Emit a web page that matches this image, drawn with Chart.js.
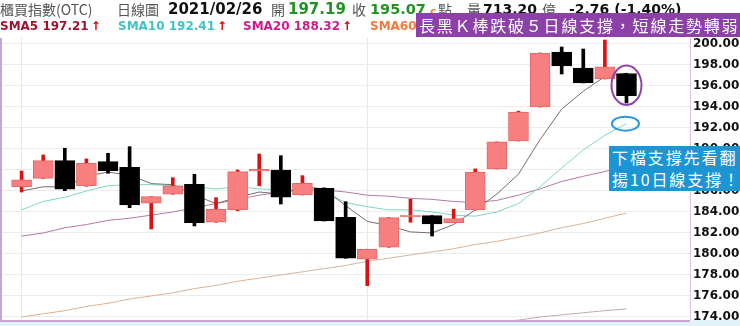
<!DOCTYPE html>
<html lang="zh-Hant">
<head>
<meta charset="utf-8">
<script src="https://cdn.jsdelivr.net/npm/chart.js@4.4.1/dist/chart.umd.min.js"></script>
<style>
  html, body { margin: 0; padding: 0; background: #fff; }
  #wrap { position: relative; width: 740px; height: 326px; overflow: hidden; }
  #wrap canvas { position: absolute; left: 0; top: 0; }
  .t { position: absolute; white-space: nowrap; }
  .cjk { font-family: "Noto Sans CJK TC", sans-serif; font-size: 14px; color: #555; top: 0; line-height: 19px; }
  .num { font-family: "DejaVu Sans", sans-serif; font-weight: bold; font-size: 15px; color: #111; top: 0; line-height: 19px; }
  .green { color: #229322; }
  .sma { font-family: "DejaVu Sans", sans-serif; font-weight: bold; font-size: 12px; top: 18px; line-height: 17px; }
  .arrow { color: #e00000; margin-left: 2px; }
  #tipTop {
    left: 416px; top: 13px; width: 324px; height: 24px; background: #8d41a8; color: #fff;
    font-family: "Noto Sans CJK TC", sans-serif; font-size: 16px; line-height: 24px;
    letter-spacing: 1.8px; padding-left: 3px; box-sizing: border-box; overflow: hidden;
  }
  #tipSide {
    left: 609px; top: 146px; width: 131px; height: 45px; background: #1b95d3; color: #fff;
    font-family: "Noto Sans CJK TC", sans-serif; font-size: 16px; line-height: 22px;
    letter-spacing: 1.9px; padding-left: 3px; box-sizing: border-box; overflow: hidden;
  }
</style>
</head>
<body>
<div id="wrap">
  <canvas id="kChart" width="740" height="326"></canvas>

  <span class="t cjk" style="left:0">櫃買指數(OTC)</span>
  <span class="t cjk" style="left:117px">日線圖</span>
  <span class="t num" id="hDate" style="left:168px"></span>
  <span class="t cjk" style="left:271px">開</span>
  <span class="t num green" id="hOpen" style="left:288px"></span>
  <span class="t cjk" style="left:352px">收</span>
  <span class="t num green" id="hClose" style="left:370px;font-size:14.5px"></span>
  <span class="t num" style="left:430px;font-size:11px;color:#f08030;top:2px">c</span>
  <span class="t cjk" style="left:438px">點</span>
  <span class="t cjk" style="left:467px">量</span>
  <span class="t num" id="hVol" style="left:483px;font-size:14px"></span>
  <span class="t cjk" style="left:542px">億</span>
  <span class="t num" id="hChg" style="left:569px;font-size:14px"></span>

  <span class="t sma" style="left:0;color:#a3122c"><span id="l5"></span><span class="arrow">↑</span></span>
  <span class="t sma" style="left:118px;color:#3fc3c8"><span id="l10"></span><span class="arrow">↑</span></span>
  <span class="t sma" style="left:243px;color:#cc1c8c"><span id="l20"></span><span class="arrow">↑</span></span>
  <span class="t sma" style="left:370px;color:#f07a3a">SMA60</span>

  <div class="t" id="tipTop">長黑Ｋ棒跌破５日線支撐，短線走勢轉弱</div>
  <div class="t" id="tipSide">下檔支撐先看翻<br>揚10日線支撐！</div>
</div>

<script>
// ============================================================
// DATA
// ============================================================
const dates = [
  "2021/01/08", "2021/01/11", "2021/01/12", "2021/01/13", "2021/01/14", "2021/01/15",
  "2021/01/18", "2021/01/19", "2021/01/20", "2021/01/21", "2021/01/22",
  "2021/01/25", "2021/01/26", "2021/01/27", "2021/01/28", "2021/01/29",
  "2021/02/01", "2021/02/02", "2021/02/03", "2021/02/04", "2021/02/05",
  "2021/02/17", "2021/02/18", "2021/02/19",
  "2021/02/22", "2021/02/23", "2021/02/24", "2021/02/25", "2021/02/26"
];

const openP = [186.40, 187.20, 188.89, 186.48, 188.79, 188.26, 184.83, 185.69, 186.64, 183.02,
  184.19, 187.88, 188.00, 185.62, 186.26, 183.50, 179.50, 180.64, 183.55, 183.65,
  182.98, 184.19, 188.10, 190.76, 194.00, 199.24, 197.71, 196.67, 197.19];
const highP = [187.90, 189.43, 190.07, 189.05, 189.59, 190.22, 185.46, 187.27, 187.59, 185.36,
  188.00, 189.52, 189.36, 187.46, 186.30, 184.98, 180.45, 183.46, 185.21, 183.65,
  184.26, 188.10, 190.67, 193.60, 199.14, 199.71, 199.52, 200.38, 197.19];
const lowP = [185.90, 187.20, 186.03, 186.45, 187.69, 184.41, 182.38, 185.69, 182.67, 183.02,
  184.12, 186.50, 184.76, 185.62, 183.14, 179.59, 176.98, 180.64, 183.02, 181.71,
  182.98, 184.19, 188.10, 190.76, 194.00, 197.14, 196.29, 196.67, 194.38];
const closeP = [187.05, 188.89, 186.16, 188.64, 187.93, 184.67, 185.46, 186.48, 182.98, 184.26,
  187.84, 188.07, 185.40, 186.73, 183.14, 179.59, 180.45, 183.46, 183.71, 182.86,
  183.36, 187.81, 190.67, 193.52, 199.14, 197.90, 196.29, 197.83, 195.07];

const sma5 = [186.0, 186.4, 186.4, 187.4, 187.8, 187.5, 186.7, 186.6, 185.6, 184.8,
  185.4, 185.9, 185.7, 186.4, 186.2, 184.6, 183.1, 182.7, 182.1, 182.0,
  182.8, 184.2, 185.7, 187.6, 190.9, 193.8, 195.5, 196.9, 197.21];
const sma10 = [184.2, 185.0, 185.4, 186.0, 186.5, 186.6, 186.6, 186.5, 186.4, 186.2,
  186.4, 186.2, 186.1, 186.1, 185.9, 184.9, 184.5, 184.2, 184.2, 184.0,
  183.7, 183.6, 184.0, 184.8, 186.4, 188.2, 189.9, 191.3, 192.41];
const sma20 = [181.7, 182.0, 182.5, 182.8, 183.2, 183.4, 183.7, 184.0, 184.4, 184.8,
  185.2, 185.6, 185.9, 186.1, 186.1, 185.9, 185.6, 185.5, 185.3, 185.2,
  185.0, 184.9, 185.1, 185.6, 186.2, 186.9, 187.4, 187.85, 188.32];
const sma60 = [174.0, 174.3, 174.6, 175.0, 175.3, 175.7, 176.0, 176.3, 176.7, 177.0,
  177.4, 177.7, 178.0, 178.3, 178.6, 178.9, 179.3, 179.6, 179.9, 180.2,
  180.5, 180.9, 181.2, 181.6, 182.0, 182.5, 182.9, 183.4, 183.9];
const sma120 = [169.9, 170.1, 170.3, 170.5, 170.6, 170.8, 171.0, 171.2, 171.3, 171.5,
  171.7, 171.9, 172.0, 172.2, 172.4, 172.5, 172.7, 172.8, 173.0, 173.1,
  173.3, 173.4, 173.5, 173.7, 174.0, 174.2, 174.4, 174.6, 174.76];

const yTicks = [174, 176, 178, 180, 182, 184, 186, 188, 190, 192, 194, 196, 198, 200];
const volume = 713.20; // 億

// ============================================================
// HEADER
// ============================================================
const last = dates.length - 1;
const chg = closeP[last] - closeP[last - 1];
document.getElementById("hDate").textContent = dates[last];
document.getElementById("hOpen").textContent = openP[last].toFixed(2);
document.getElementById("hClose").textContent = closeP[last].toFixed(2);
document.getElementById("hVol").textContent = volume.toFixed(2);
document.getElementById("hChg").textContent =
  `${chg.toFixed(2)} (${(chg / closeP[last - 1] * 100).toFixed(2)}%)`;
document.getElementById("l5").textContent = `SMA5 ${sma5[last].toFixed(2)}`;
document.getElementById("l10").textContent = `SMA10 ${sma10[last].toFixed(2)}`;
document.getElementById("l20").textContent = `SMA20 ${sma20[last].toFixed(2)}`;

// ============================================================
// COLORI
// ============================================================
const isUp = closeP.map((c, i) => c >= openP[i]);
const bodyFill = isUp.map(u => (u ? "#f87f7f" : "#000000"));
const bodyLine = isUp.map(u => (u ? "#e46666" : "#000000"));
const wickFill = isUp.map(u => (u ? "#dd1111" : "#000000"));

// month starts -> vertical grid lines
const monthStarts = dates
  .map((d, i) => (i === 0 || d.slice(0, 7) !== dates[i - 1].slice(0, 7) ? i : -1))
  .filter(i => i >= 0);

const pts = arr => arr.map((v, i) => ({ x: i, y: v }));

// ============================================================
// PLUGIN: cornice, striscia, ellissi
// ============================================================
const framePlugin = {
  id: "frame",
  beforeDraw(chart) {
    const { ctx, chartArea: a } = chart;
    ctx.save();
    ctx.fillStyle = "#e2f2f9";
    ctx.fillRect(0, a.bottom, chart.width, chart.height - a.bottom);
    ctx.restore();
  },
  afterDraw(chart) {
    const { ctx, chartArea: a, scales } = chart;
    ctx.save();
    ctx.strokeStyle = "#c9a4da";
    ctx.lineWidth = 2;
    ctx.beginPath();
    ctx.moveTo(1, a.top);
    ctx.lineTo(1, a.bottom + 1);
    ctx.lineTo(a.right, a.bottom + 1);
    ctx.stroke();
    ctx.lineWidth = 1;
    ctx.strokeStyle = "#d6c2e0";
    ctx.beginPath();
    ctx.moveTo(a.right + 0.5, a.top);
    ctx.lineTo(a.right + 0.5, a.bottom);
    ctx.stroke();

    // ellisse viola sull'ultima K
    const xl = scales.x.getPixelForValue(last);
    const yTop = scales.y.getPixelForValue(highP[last]) - 8;
    const yBot = scales.y.getPixelForValue(lowP[last]) + 2;
    ctx.lineWidth = 2;
    ctx.strokeStyle = "#8d41a8";
    ctx.beginPath();
    ctx.ellipse(xl, (yTop + yBot) / 2, 15, (yBot - yTop) / 2, 0, 0, Math.PI * 2);
    ctx.stroke();

    // ellisse blu sulla SMA10
    ctx.strokeStyle = "#2a9ad8";
    ctx.beginPath();
    ctx.ellipse(xl - 1, scales.y.getPixelForValue(sma10[last]), 13.5, 7, 0, 0, Math.PI * 2);
    ctx.stroke();
    ctx.restore();
  }
};

// ============================================================
// GRAFICO
// ============================================================
const lineDs = (label, arr, color) => ({
  type: "line",
  label: label,
  data: pts(arr),
  borderColor: color,
  borderWidth: 1,
  pointRadius: 0,
  tension: 0
});

new Chart(document.getElementById("kChart").getContext("2d"), {
  type: "bar",
  data: {
    datasets: [
      {
        label: "body",
        data: openP.map((o, i) => ({ x: i, y: [o, closeP[i]] })),
        backgroundColor: bodyFill,
        borderColor: bodyLine,
        borderWidth: 1,
        borderSkipped: false,
        barThickness: 20,
        grouped: false
      },
      {
        label: "wick",
        data: lowP.map((l, i) => ({ x: i, y: [l, highP[i]] })),
        backgroundColor: wickFill,
        borderWidth: 0,
        barThickness: 3,
        grouped: false
      },
      lineDs("SMA5", sma5, "#7a6a6e"),
      lineDs("SMA10", sma10, "#7fd6c6"),
      lineDs("SMA20", sma20, "#b27aa6"),
      lineDs("SMA60", sma60, "#d9b496"),
      lineDs("SMA120", sma120, "#c4a6bc")
    ]
  },
  options: {
    responsive: false,
    animation: false,
    layout: { padding: { top: 38, bottom: 6, left: 0, right: 0 } },
    plugins: { legend: { display: false }, tooltip: { enabled: false } },
    scales: {
      x: {
        type: "linear",
        min: -1,
        max: 30.94,
        offset: false,
        border: { display: false },
        grid: { color: "#e6e6e6", drawTicks: false, offset: false },
        ticks: { display: false },
        afterBuildTicks: s => { s.ticks = monthStarts.map(v => ({ value: v })); },
        afterFit: s => { s.height = 0; }
      },
      y: {
        position: "right",
        min: 173.71,
        max: 200.57,
        border: { display: false },
        grid: { color: "#ececec", drawTicks: false },
        afterBuildTicks: s => { s.ticks = yTicks.map(v => ({ value: v })); },
        afterFit: s => {
          s.width = 50;
          s.paddingTop = 0;
          s.paddingBottom = 0;
        },
        ticks: {
          padding: 3,
          color: "#111",
          font: { family: "DejaVu Sans", weight: "bold", size: 12 },
          callback: v => Number(v).toFixed(2)
        }
      }
    }
  },
  plugins: [framePlugin]
});
</script>
</body>
</html>
